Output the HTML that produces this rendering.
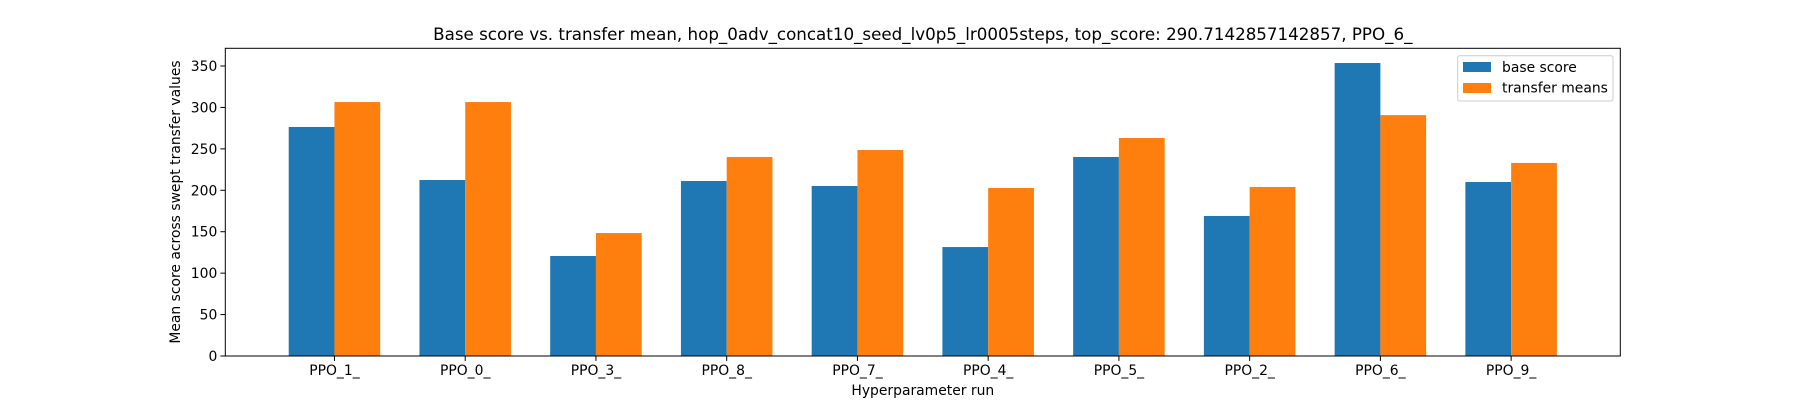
<!DOCTYPE html>
<html><head><meta charset="utf-8"><style>
body{margin:0;background:#fff;}
svg{display:block;font-family:"DejaVu Sans","Liberation Sans",sans-serif;}
</style></head><body>
<svg id="chart" width="1800" height="400" viewBox="0 0 1800 400" xmlns="http://www.w3.org/2000/svg">
<rect width="1800" height="400" fill="#fff"/>
<text x="922.8" y="40" font-size="16.7" text-anchor="middle">Base score vs. transfer mean, hop_0adv_concat10_seed_lv0p5_lr0005steps, top_score: 290.7142857142857, PPO_6_</text>
<g id="bars"></g>
<g id="axes"></g>
<text x="922.8" y="395" font-size="13.9" text-anchor="middle">Hyperparameter run</text>
<text transform="translate(180,202) rotate(-90)" font-size="13.9" text-anchor="middle">Mean score across swept transfer values</text>
<g>
<rect x="1457.7" y="55.7" width="155.3" height="45.3" rx="2" fill="#fff" fill-opacity="0.8" stroke="#ccc"/>
<rect x="1463" y="62" width="28" height="10" fill="#1f77b4"/>
<text x="1502" y="72" font-size="13.9">base score</text>
<rect x="1463" y="83" width="28" height="10" fill="#ff7f0e"/>
<text x="1502" y="92.5" font-size="13.9">transfer means</text>
</g>
</svg>
<script>
const categories = ["PPO_1_","PPO_0_","PPO_3_","PPO_8_","PPO_7_","PPO_4_","PPO_5_","PPO_2_","PPO_6_","PPO_9_"];
const baseScores = [276.4,212.4,120.7,211.2,205.2,131.5,240.2,169,353.6,210];
const transferMeans = [306.5,306.5,148.4,240.2,248.6,202.8,263.1,204,290.7,233];
const yTicks = [0,50,100,150,200,250,300,350];

const L=225.3,R=1620.3,T=48.3,B=356;
const xmin=-0.835,xmax=categories.length-1+0.835;
const ymax=(B-T)/((B-66)/350);
const xs=v=>L+(v-xmin)/(xmax-xmin)*(R-L);
const ys=v=>B-v/ymax*(B-T);
const NS="http://www.w3.org/2000/svg";
const bars=document.getElementById('bars'),axes=document.getElementById('axes');
const w=0.35;
function mk(tag,attrs,parent){const e=document.createElementNS(NS,tag);for(const k in attrs)e.setAttribute(k,attrs[k]);parent.appendChild(e);return e;}
categories.forEach((c,i)=>{
  const b=mk('rect',{x:xs(i-w),y:ys(baseScores[i]),width:xs(i)-xs(i-w),height:B-ys(baseScores[i]),fill:'#1f77b4'},bars);
  
  
  const t=mk('rect',{x:xs(i),y:ys(transferMeans[i]),width:xs(i+w)-xs(i),height:B-ys(transferMeans[i]),fill:'#ff7f0e'},bars);
  
  
  const tk=mk('line',{x1:xs(i),x2:xs(i),y1:B,y2:B+4.9,stroke:'#000','stroke-width':1},axes);
  
  
  const lb=mk('text',{x:xs(i),y:B+19,'font-size':13.9,'text-anchor':'middle'},axes);
  lb.textContent=c;
  
  
});
yTicks.forEach(v=>{
  const tk=mk('line',{x1:L-4.9,x2:L,y1:ys(v),y2:ys(v),stroke:'#000','stroke-width':1},axes);
  
  
  const lb=mk('text',{x:L-8,y:ys(v)+5,'font-size':13.9,'text-anchor':'end'},axes);
  lb.textContent=v;
  
  
});
const fr=mk('rect',{x:L,y:T,width:R-L,height:B-T,fill:'none',stroke:'#000','stroke-width':1},axes);


</script>
</body></html>
